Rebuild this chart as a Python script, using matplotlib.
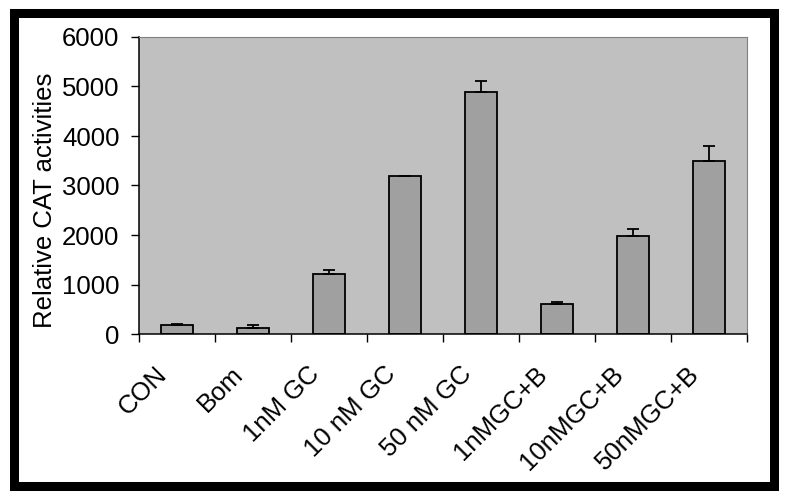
import matplotlib
matplotlib.use("Agg")
import matplotlib.pyplot as plt
import matplotlib.transforms as mtransforms
import numpy as np
from matplotlib.patches import Rectangle

labels = ["CON", "Bom", "1nM GC", "10 nM GC", "50 nM GC", "1nMGC+B", "10nMGC+B", "50nMGC+B"]
values = [175, 128, 1220, 3200, 4890, 614, 1976, 3500]
errors = [18, 45, 65, 0, 230, 40, 148, 290]

plt.rcParams['font.family'] = ['Liberation Sans', 'DejaVu Sans']
fs = 18.5

fig = plt.figure(figsize=(7.88, 4.98), dpi=100)
ax = fig.add_axes([139 / 788, 164 / 498, 608 / 788, 297 / 498])
ax.set_facecolor("#c0c0c0")

x = np.arange(len(labels))
ax.bar(x, values, 0.41, color="#a0a0a0", edgecolor="black", linewidth=1.3, zorder=2)
ax.errorbar(x, values, yerr=[np.zeros(len(errors)), errors], fmt="none",
            ecolor="black", elinewidth=1.3, capsize=4, capthick=1.3, zorder=3)

ax.set_xlim(-0.5, len(labels) - 0.5)
ax.set_ylim(0, 6000)
ax.set_yticks(np.arange(0, 6001, 1000))
ax.tick_params(axis="y", labelsize=fs, direction="out", length=6, width=1, pad=8)

# category ticks sit between the bars, labels under the bars
ax.set_xticks(np.arange(-0.5, len(labels)), minor=False)
ax.set_xticklabels([])
ax.set_xticks(x, minor=True)
ax.set_xticklabels(labels, minor=True, rotation=45, ha="right",
                   rotation_mode="anchor", fontsize=fs)
ax.tick_params(axis="x", which="major", direction="out", length=6, width=1)
ax.tick_params(axis="x", which="minor", length=0, pad=20)
shift = mtransforms.ScaledTranslation(-0.22, 0, fig.dpi_scale_trans)
for lab in ax.get_xticklabels(minor=True):
    lab.set_transform(lab.get_transform() + shift)

for s in ["top", "right"]:
    ax.spines[s].set_color("#808080")
for s in ["left", "bottom"]:
    ax.spines[s].set_color("black")
    ax.spines[s].set_linewidth(1.1)

ax.set_ylabel("Relative CAT activities", fontsize=fs)
ax.yaxis.set_label_coords(-0.135, 0.45)

fig.patches.append(Rectangle((13.5 / 788, 12 / 498), 760 / 788, 472.5 / 498,
                             transform=fig.transFigure, fill=False,
                             edgecolor="black", linewidth=6.5))

fig.savefig("out.png", dpi=100)
